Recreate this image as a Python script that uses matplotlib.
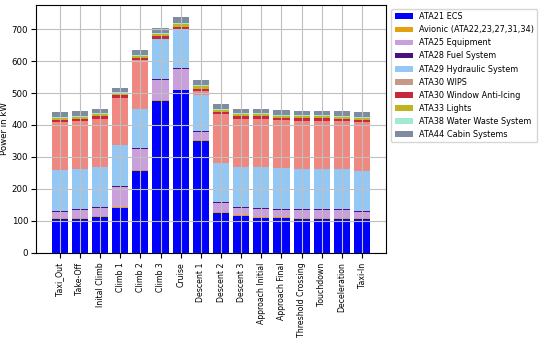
import numpy as np
import matplotlib
matplotlib.use("Agg")
import matplotlib.pyplot as plt

phases = [
    "Taxi_Out", "Take-Off", "Inital Climb", "Climb 1", "Climb 2", "Climb 3",
    "Cruise", "Descent 1", "Descent 2", "Descent 3", "Approach Initial",
    "Approach Final", "Threshold Crossing", "Touchdown", "Deceleration", "Taxi-In",
]

# power per system in kW
ecs = [106, 107, 113, 140, 256, 476, 508, 350, 126, 116, 110, 108, 106, 106, 106, 106]
avionic = [3, 3, 3, 3, 3, 3, 3, 3, 3, 3, 3, 3, 3, 3, 3, 3]
equipment = [19, 24, 24, 64, 65, 62, 63, 24, 26, 22, 24, 24, 24, 24, 24, 20]
fuel = [3, 3, 3, 3, 3, 3, 3, 3, 3, 3, 3, 3, 3, 3, 3, 3]
hydraulic = [127, 126, 127, 127, 123, 125, 121, 114, 122, 126, 127, 126, 126, 126, 126, 125]
wips = [151, 150, 150, 149, 154, 0, 0, 12, 154, 150, 153, 152, 152, 152, 151, 152]
window = [7, 7, 7, 7, 7, 8, 9, 8, 7, 7, 7, 7, 7, 7, 7, 7]
lights = [6, 6, 6, 6, 6, 7, 8, 7, 6, 6, 6, 6, 6, 6, 6, 6]
water = [3, 3, 3, 3, 3, 4, 5, 4, 3, 3, 3, 3, 3, 3, 3, 3]
cabin = [15, 15, 15, 15, 15, 16, 18, 16, 15, 15, 15, 15, 15, 15, 15, 15]

systems = [
    ("ATA21 ECS", ecs, "#0000ff"),
    ("Avionic (ATA22,23,27,31,34)", avionic, "#e5a00d"),
    ("ATA25 Equipment", equipment, "#c9a0dc"),
    ("ATA28 Fuel System", fuel, "#4b0f82"),
    ("ATA29 Hydraulic System", hydraulic, "#94c8f4"),
    ("ATA30 WIPS", wips, "#ee8880"),
    ("ATA30 Window Anti-Icing", window, "#c8283c"),
    ("ATA33 Lights", lights, "#bfb322"),
    ("ATA38 Water Waste System", water, "#a3e8d2"),
    ("ATA44 Cabin Systems", cabin, "#7f8ca0"),
]

fig = plt.figure(figsize=(5.5, 3.44), dpi=100)
ax = fig.add_axes([0.065, 0.265, 0.637, 0.72])

x = np.arange(len(phases))
bottom = np.zeros(len(phases))
for label, values, color in systems:
    ax.bar(x, values, 0.8, bottom=bottom, color=color, label=label)
    bottom += np.array(values)

ax.set_xticks(x)
ax.set_xticklabels(phases, rotation=90, fontsize=5.6)
ax.tick_params(axis="y", labelsize=6.2, pad=2)
ax.set_ylabel("Power in kW", fontsize=6.2, labelpad=2)
ax.grid(True, color="#c0c0c0")

leg = ax.legend(loc="upper left", bbox_to_anchor=(1.015, 0.985), fontsize=5.9,
                borderaxespad=0, handlelength=2.2)
# legend patch for WIPS is drawn in a tan tone in the original
leg.legend_handles[5].set_facecolor("#c49a86")

fig.savefig("out.png", dpi=100)
